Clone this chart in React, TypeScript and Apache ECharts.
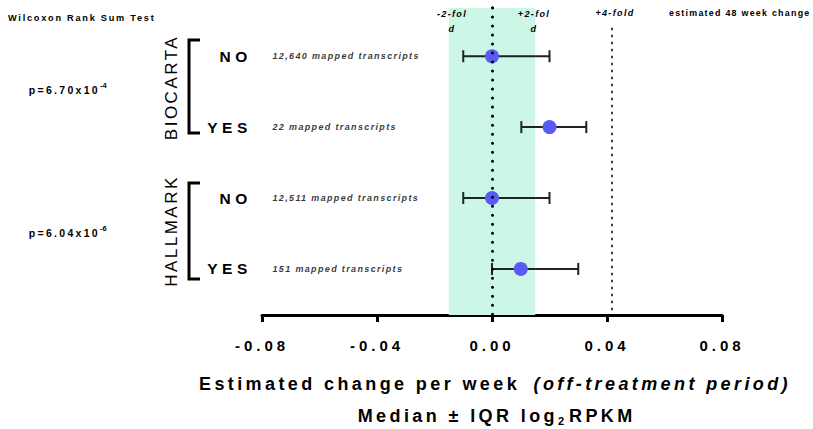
import React, { useEffect, useRef } from "react";
import * as echarts from "echarts";

// ---- data ----
const rowPositions = [1, 2, 3, 4];
const rowLabels = ["NO", "YES", "NO", "YES"];
const medians = [0.0, 0.02, 0.0, 0.01];
const iqrLow = [-0.01, 0.0102, -0.01, 0.0];
const iqrHigh = [0.02, 0.0328, 0.02, 0.03];
const transcriptLabels = [
  "12,640 mapped transcripts",
  "22 mapped transcripts",
  "12,511 mapped transcripts",
  "151 mapped transcripts",
];
const groupNames = ["BIOCARTA", "HALLMARK"];
const pMantissas = ["p=6.70x10", "p=6.04x10"];
const pExponents = ["-4", "-6"];
const twoFoldLow = -0.015;
const twoFoldHigh = 0.015;
const fourFoldValue = 0.0417;
const xMin = -0.08;
const xMax = 0.08;
const xInterval = 0.04;

const FONT = "Liberation Sans, Arial, Helvetica, sans-serif";

const css = `
#chart-root text[style*="18px"]{letter-spacing:3.4px}
#chart-root text[style*="17px"]{letter-spacing:2.5px}
#chart-root text[style*="15px"]{letter-spacing:4px}
#chart-root text[style*="15.5px"]{letter-spacing:4.6px}
#chart-root text[style*="10.5px"]{letter-spacing:2.3px}
#chart-root text[style*="9px"]{letter-spacing:1.35px}
#chart-root text[style*="9.2px"]{letter-spacing:1.75px}
#chart-root text[style*="8.9px"]{letter-spacing:1.25px}
`;

export default function App() {
  const ref = useRef<HTMLDivElement>(null);
  useEffect(() => {
    const chart = echarts.init(ref.current!, undefined, { renderer: "svg" });

    const errData = rowPositions.map((p, i) => [p, iqrLow[i], iqrHigh[i]]);
    const medData = rowPositions.map((p, i) => [medians[i], p]);
    const labelData = rowPositions.map((p, i) => [xMin, p, transcriptLabels[i]]);

    const txt = (
      x: number,
      y: number,
      text: string,
      fontSize: number,
      opts: any = {}
    ) => ({
      type: "text",
      x,
      y,
      z: 100,
      rotation: opts.rotation ?? 0,
      style: {
        text,
        fill: "#000",
        fontSize,
        fontWeight: opts.fontWeight ?? "bold",
        fontStyle: opts.fontStyle ?? "normal",
        fontFamily: FONT,
        lineHeight: opts.lineHeight,
        textAlign: opts.align ?? "left",
        textVerticalAlign: opts.valign ?? "middle",
      },
    });

    const bracket = (top: number, bottom: number) => ({
      type: "polyline",
      z: 100,
      shape: { points: [[200, top], [189, top], [189, bottom], [200, bottom]] },
      style: { stroke: "#000", lineWidth: 3, fill: null },
    });

    const option: any = {
      animation: false,
      backgroundColor: "#fff",
      grid: { left: 262, right: 91, top: 8, bottom: 114, containLabel: false },
      xAxis: {
        type: "value",
        min: xMin,
        max: xMax,
        interval: xInterval,
        axisLine: { show: true, lineStyle: { color: "#000", width: 3 } },
        axisTick: { show: true, length: 7, lineStyle: { color: "#000", width: 3 } },
        splitLine: { show: false },
        axisLabel: {
          margin: 23,
          color: "#000",
          fontSize: 15,
          fontWeight: "bold",
          fontFamily: FONT,
          formatter: (v: number) => v.toFixed(2),
        },
      },
      yAxis: {
        type: "value",
        inverse: true,
        min: 0.32,
        max: 4.65,
        axisLine: { show: true, lineStyle: { color: "#000", width: 3 } },
        axisTick: { show: true, length: 7, customValues: rowPositions, lineStyle: { color: "#000", width: 3 } },
        splitLine: { show: false },
        axisLabel: {
          customValues: rowPositions,
          margin: 10,
          color: "#000",
          fontSize: 15.5,
          fontWeight: "bold",
          fontFamily: FONT,
          formatter: (v: number) => rowLabels[Math.round(v) - 1] ?? "",
        },
      },
      series: [
        {
          type: "scatter",
          silent: true,
          symbolSize: 1,
          itemStyle: { color: "rgba(0,0,0,0)" },
          data: labelData,
          z: 1,
          label: {
            show: true,
            position: "right",
            distance: 10,
            formatter: (p: any) => p.data[2],
            color: "#000",
            fontSize: 9,
            fontWeight: "bold",
            fontStyle: "italic",
            fontFamily: FONT,
          },
          markArea: {
            silent: true,
            itemStyle: { color: "#ccf7e6" },
            data: [[{ xAxis: twoFoldLow }, { xAxis: twoFoldHigh }]],
          },
          markLine: {
            silent: true,
            symbol: "none",
            label: { show: false },
            data: [
              {
                xAxis: 0,
                lineStyle: { color: "#000", width: 3, type: [0.01, 9], cap: "round" },
              },
              [
                { coord: [fourFoldValue, 0.6], lineStyle: { color: "#000", width: 1.5, type: [2.5, 4.5] } },
                { coord: [fourFoldValue, 4.65] },
              ],
            ],
          },
        },
        {
          type: "custom",
          z: 3,
          silent: true,
          data: errData,
          encode: { x: [1, 2], y: 0 },
          renderItem: (params: any, api: any) => {
            const y = api.value(0);
            const a = api.coord([api.value(1), y]);
            const b = api.coord([api.value(2), y]);
            const h = 6;
            const st = { stroke: "#222", lineWidth: 2 };
            return {
              type: "group",
              children: [
                { type: "line", shape: { x1: a[0], y1: a[1], x2: b[0], y2: b[1] }, style: st },
                { type: "line", shape: { x1: a[0], y1: a[1] - h, x2: a[0], y2: a[1] + h }, style: st },
                { type: "line", shape: { x1: b[0], y1: b[1] - h, x2: b[0], y2: b[1] + h }, style: st },
              ],
            };
          },
        },
        {
          type: "scatter",
          z: 4,
          silent: true,
          symbol: "circle",
          symbolSize: 14,
          itemStyle: { color: "#5a5af5", opacity: 1 },
          data: medData,
        },
      ],
      graphic: [
        txt(8, 18, "Wilcoxon Rank Sum Test", 9.2),
        txt(100, 89.5, pMantissas[0], 10.5, { align: "right" }),
        txt(100, 85, pExponents[0], 7.5),
        txt(100, 232.5, pMantissas[1], 10.5, { align: "right" }),
        txt(100, 228, pExponents[1], 7.5),
        bracket(40, 133),
        bracket(183, 279),
        txt(171.5, 87.5, groupNames[0], 17, { align: "center", fontWeight: "normal", rotation: Math.PI / 2 }),
        txt(171.5, 231, groupNames[1], 17, { align: "center", fontWeight: "normal", rotation: Math.PI / 2 }),
        txt(452, 6, "-2-fol\nd", 9, { align: "center", valign: "top", fontStyle: "italic", lineHeight: 15 }),
        txt(534, 6, "+2-fol\nd", 9, { align: "center", valign: "top", fontStyle: "italic", lineHeight: 15 }),
        txt(615, 13, "+4-fold", 9, { align: "center", fontStyle: "italic" }),
        txt(669, 13, "estimated 48 week change", 8.9),
        txt(199, 384, "Estimated change per week", 18),
        txt(791, 384, "(off-treatment period)", 18, { fontStyle: "italic", align: "right" }),
        txt(558, 416, "Median ± IQR log", 18, { align: "right" }),
        txt(561, 421, "2", 11, { align: "center" }),
        txt(569, 416, "RPKM", 18),
      ],
    };

    chart.setOption(option);
    return () => chart.dispose();
  }, []);

  return (
    <>
      <style>{css}</style>
      <div
        id="chart-root"
        ref={ref}
        style={{ position: "fixed", left: 0, top: 0, width: 813, height: 429, background: "#fff" }}
      />
    </>
  );
}
